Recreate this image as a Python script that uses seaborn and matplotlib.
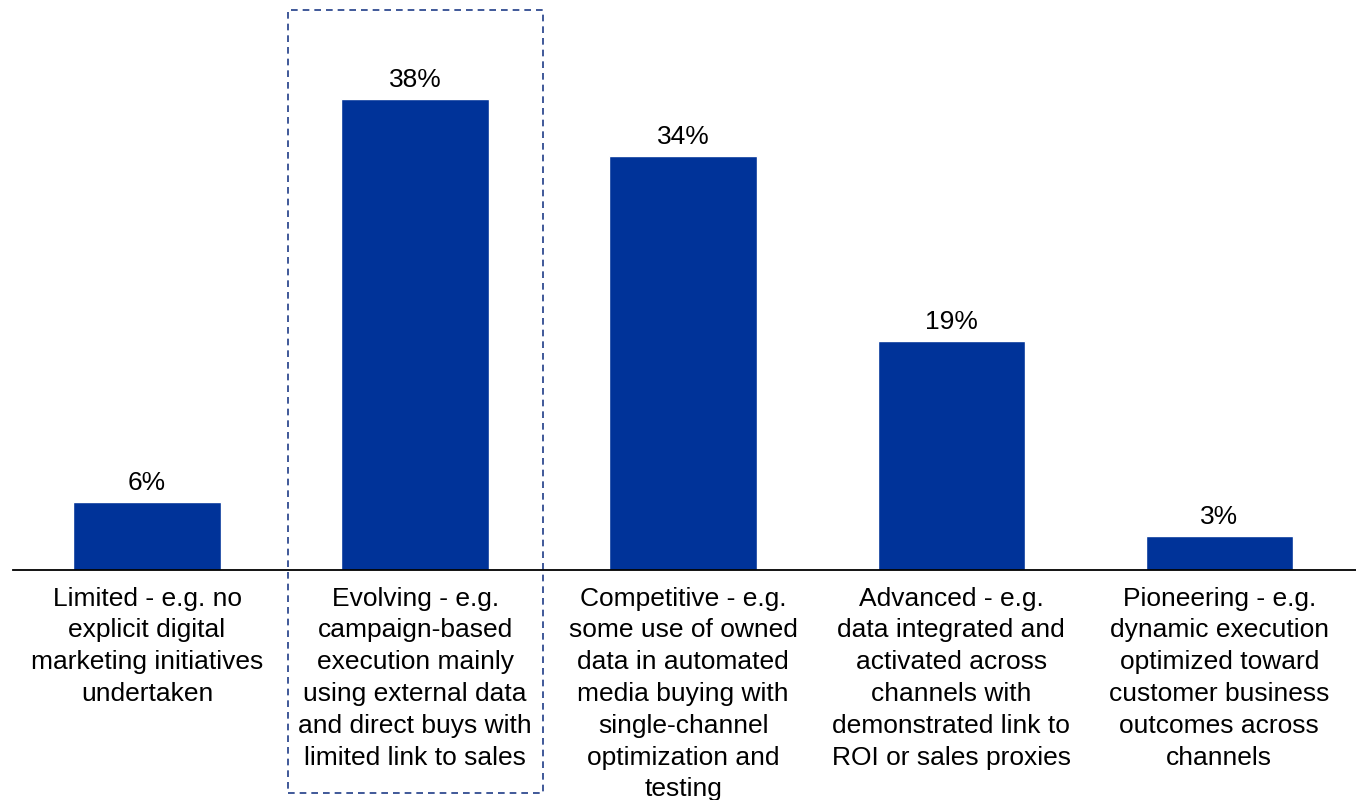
import matplotlib
matplotlib.use("Agg")
import matplotlib.pyplot as plt
import matplotlib.transforms as mtransforms
from matplotlib.patches import Rectangle
import seaborn as sns
import pandas as pd

categories = [
    "Limited - e.g. no\nexplicit digital\nmarketing initiatives\nundertaken",
    "Evolving - e.g.\ncampaign-based\nexecution mainly\nusing external data\nand direct buys with\nlimited link to sales",
    "Competitive - e.g.\nsome use of owned\ndata in automated\nmedia buying with\nsingle-channel\noptimization and\ntesting",
    "Advanced - e.g.\ndata integrated and\nactivated across\nchannels with\ndemonstrated link to\nROI or sales proxies",
    "Pioneering - e.g.\ndynamic execution\noptimized toward\ncustomer business\noutcomes across\nchannels",
]
values = [5.6, 38.6, 33.9, 18.8, 2.8]
value_labels = ["6%", "38%", "34%", "19%", "3%"]

sns.set_theme(style="white")
plt.rcParams["font.family"] = ["Liberation Sans", "DejaVu Sans"]

FS = 19
fig = plt.figure(figsize=(13.56, 8), dpi=100)
ax = fig.add_axes([13 / 1356, 1 - 570 / 800, 1 - 13 / 1356, 570 / 800])

df = pd.DataFrame({"cat": categories, "val": values})
sns.barplot(data=df, x="cat", y="val", color="#003399", saturation=1,
            width=0.55, ax=ax)

ax.set_xlim(-0.5, 4.51)
ax.set_ylim(0, 46.7)
ax.set_xlabel("")
ax.set_ylabel("")
ax.set_yticks([])
for s in ["top", "left", "right"]:
    ax.spines[s].set_visible(False)
ax.spines["bottom"].set_color("black")
ax.spines["bottom"].set_linewidth(1.3)
ax.tick_params(axis="x", length=0, pad=12, labelsize=FS)
for lab in ax.get_xticklabels():
    lab.set_linespacing(1.41)
    lab.set_color("black")

ax.bar_label(ax.containers[0], labels=value_labels, padding=5, fontsize=FS,
             color="black")

trans = mtransforms.blended_transform_factory(ax.transData, fig.transFigure)
rect = Rectangle((0.526, 1 - 793 / 800), 0.952, (793 - 10) / 800,
                 transform=trans, fill=False, edgecolor="#1F3C88",
                 linestyle=(0, (4, 3)), linewidth=1.2, clip_on=False)
ax.add_patch(rect)

fig.savefig("out.png", dpi=100)
